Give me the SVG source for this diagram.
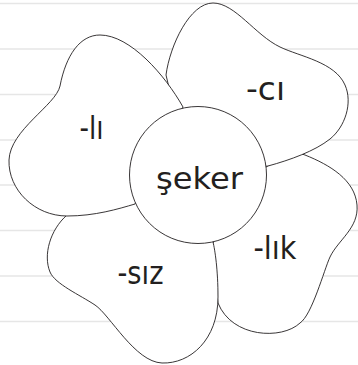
<svg xmlns="http://www.w3.org/2000/svg" width="358" height="365" viewBox="0 0 358 365">
  <style>
    .rule { stroke: #e6e6e6; stroke-width: 1.5; }
    .petal { fill: #ffffff; stroke: #231f20; stroke-width: 0.9; stroke-linejoin: round; }
    .lbl { font-family: "DejaVu Sans", "Liberation Sans", sans-serif; fill: #231f20; text-anchor: middle; }
  </style>
  <rect x="0" y="0" width="358" height="365" fill="#ffffff"/>
  <g id="rules">
    <line class="rule" x1="0" y1="3.5" x2="358" y2="3.5"/>
    <line class="rule" x1="0" y1="49" x2="358" y2="49"/>
    <line class="rule" x1="0" y1="94.5" x2="358" y2="94.5"/>
    <line class="rule" x1="0" y1="140" x2="358" y2="140"/>
    <line class="rule" x1="0" y1="185" x2="358" y2="185"/>
    <line class="rule" x1="0" y1="230.5" x2="358" y2="230.5"/>
    <line class="rule" x1="0" y1="276" x2="358" y2="276"/>
    <line class="rule" x1="0" y1="321.5" x2="358" y2="321.5"/>
  </g>
  <g id="petal-lik">
    <path class="petal" d="M305,155 C330,165 355,180 357,205 C359,228 338,240 330,257 C324,270 312,315 300,323 C282,340 232,338 218,303 L212,250 L220,200 L290,150 Z"/>
    <text class="lbl" x="275" y="259" font-size="32" textLength="43" lengthAdjust="spacingAndGlyphs">-lık</text>
  </g>
  <g id="petal-siz">
    <path class="petal" d="M67,215 C50,230 43,255 50,272 C55,284 80,295 95,305 C110,315 135,362 162,363 C190,364 218,340 218,297 C218,270 215,250 213,242 L198,200 L90,200 L80,205 Z"/>
    <text class="lbl" x="140.5" y="284" font-size="32" textLength="46" lengthAdjust="spacingAndGlyphs">-sız</text>
  </g>
  <g id="petal-ci">
    <path class="petal" d="M166,75 C170,45 190,3 213,3 C235,3 255,35 280,47 C300,56.6 335,62 345,85 C353,103 345,127 330,139 C315,151 290,160 268,166 L198,175 L172,100 Z"/>
    <text class="lbl" x="265.5" y="100" font-size="32" textLength="39" lengthAdjust="spacingAndGlyphs">-cı</text>
  </g>
  <g id="petal-li">
    <path class="petal" d="M183,107 C165,75 130,35 100,35 C80,35 66,55 60,86 C56,105 10,130 9,160 C8,190 35,216 67,216 C95,216 118,209 135,204 Z"/>
    <text class="lbl" x="91.5" y="139" font-size="32" textLength="24" lengthAdjust="spacingAndGlyphs">-lı</text>
  </g>
  <g id="center">
    <circle class="petal" cx="198" cy="175" r="68.5"/>
    <text class="lbl" x="199.5" y="189" font-size="31" textLength="87" lengthAdjust="spacingAndGlyphs">şeker</text>
  </g>
</svg>
